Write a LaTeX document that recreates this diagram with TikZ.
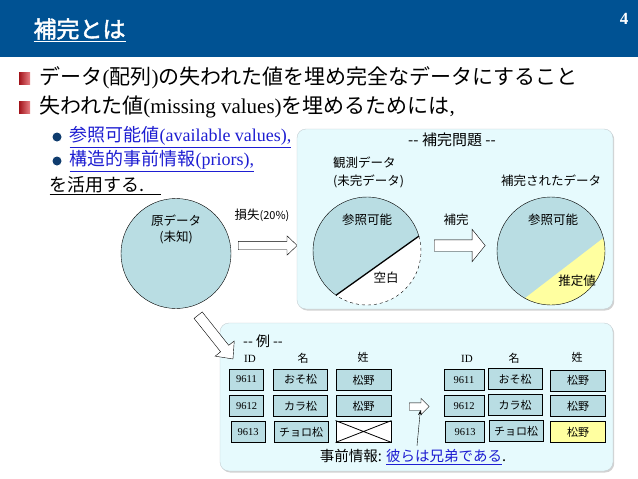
\documentclass[tikz,border=0pt]{standalone}
\usepackage{fontspec}
\setmainfont{Liberation Serif}
\newfontfamily\jp{Noto Sans CJK JP}
\newfontfamily\jpbold{Noto Sans CJK JP}[FakeBold=2]
\usetikzlibrary{shapes.arrows, shapes.geometric, arrows.meta, positioning, shadows, calc}
\definecolor{titleblue}{RGB}{0,82,147}
\definecolor{datafill}{RGB}{185,221,227}
\definecolor{panelfill}{RGB}{230,250,253}
\definecolor{panelline}{RGB}{196,206,210}
\definecolor{estfill}{RGB}{255,255,160}
\definecolor{linkblue}{RGB}{30,30,210}
\definecolor{dotblue}{RGB}{15,60,110}
\definecolor{bulletred}{RGB}{215,25,35}
\newcommand{\J}[1]{{\jp #1}}
\newcommand{\fsz}[1]{\fontsize{#1}{#1}\selectfont}

\begin{document}
\begin{tikzpicture}[x=1pt, y=-1pt, >=Stealth, font=\jp,
    panel/.style={draw=panelline, fill=panelfill, rounded corners=9pt,
        drop shadow={shadow xshift=1.2pt, shadow yshift=-1.5pt, opacity=.35}},
    datacircle/.style={circle, draw, fill=datafill, minimum size=110pt, inner sep=0pt},
    hollow/.style={single arrow, draw, fill=white, inner sep=0pt, text depth=0pt, anchor=tail},
    lbl/.style={font=\jp\fsz{12.5}, inner sep=0pt},
    hdr/.style={font=\fsz{11}, inner sep=0pt},
    cell/.style={draw, line width=.8pt, fill=datafill, minimum height=21pt, inner sep=0pt, font=\jp\fsz{11}},
    idcell/.style={cell, minimum width=34pt, font=\fsz{10.5}},
    namecell/.style={cell, minimum width=54pt},
    famcell/.style={cell, minimum width=55pt},
    redsq/.style={minimum width=11pt, minimum height=12pt, inner sep=0pt,
        left color=bulletred!75!black, right color=bulletred!55!white},
    dot/.style={circle, fill=dotblue, minimum size=9pt, inner sep=0pt}]
    \useasboundingbox (0,0) rectangle (638,479);
    \fill[white] (0,0) rectangle (638,479);

    % title bar
    \fill[titleblue] (0,0) rectangle (638,57);
    \node[anchor=west, text=white, font=\jpbold\fsz{23}] (title) at (30,30) {\underline{補完とは}};
    \node[text=white, font=\fsz{17}\bfseries] (pageno) at (624,19) {4};

    % bullets
    \node[redsq] (sq1) at (24.5,78) {};
    \node[redsq] (sq2) at (24.5,107) {};
    \node[anchor=west, font=\fsz{21}] (line1) at (36,78)
        {\J{データ}(\J{配列})\J{の失われた値を埋め完全なデータにすること}};
    \node[anchor=west, font=\fsz{21}] (line2) at (36,107)
        {\J{失われた値}(missing values)\J{を埋めるためには},};
    \node[dot] (dot1) at (57,137) {};
    \node[dot] (dot2) at (57,161) {};
    \node[anchor=west, text=linkblue, font=\fsz{18}] (avail) at (66,137)
        {\underline{\J{参照可能値}(available values),}};
    \node[anchor=west, text=linkblue, font=\fsz{18}] (prior) at (66,161)
        {\underline{\J{構造的事前情報}(priors),}};
    \node[anchor=west, font=\jp\fsz{18}] (use) at (46,186) {\underline{を活用する.\hspace{16pt}}};

    % original data
    \node[datacircle] (orig) at (176,253.5) {};
    \node[lbl, align=center, font=\jp\fontsize{12.5}{16}\selectfont] (origtxt) at (176,229) {原データ\\(未知)};
    \node[lbl] (losstxt) at (262,215) {損失\fsz{11}(20\%)};
    \node[hollow, text height=8pt, single arrow head extend=5.5pt, single arrow tip angle=87,
        minimum height=59pt] (lossarr) at (238,245.5) {};

    % completion problem
    \draw[panel] (297,129) rectangle (613,309);
    \node[font=\jp\fsz{15}] (probtitle) at (452,140) {-- 補完問題 --};
    \node[lbl, anchor=west, align=left, font=\jp\fontsize{12.5}{18}\selectfont] (obstxt) at (333,172)
        {観測データ\\(未完データ)};
    \node[lbl] (comptxt) at (551,181) {補完されたデータ};

    \coordinate (obs) at (367,251);
    \fill[datafill] (obs) ++(125:54) arc[start angle=125, end angle=344, radius=54] -- cycle;
    \fill[white] (obs) ++(-16:54) arc[start angle=-16, end angle=125, radius=54] -- cycle;
    \draw (obs) ++(125:54) arc[start angle=125, end angle=344, radius=54];
    \draw[dashed] (obs) ++(-16:54) arc[start angle=-16, end angle=125, radius=54];
    \draw[line width=1.3pt] ($(obs)+(125:54)$) -- ($(obs)+(-16:54)$);
    \node[lbl] (obsavail) at (367,220) {参照可能};
    \node[lbl] (blank) at (386,278) {空白};

    \node[lbl] (filltxt) at (456,220) {補完};
    \node[hollow, text height=11pt, single arrow head extend=10.5pt, single arrow tip angle=102,
        minimum height=51pt] (fillarr) at (434,245.5) {};

    \coordinate (comp) at (551,251);
    \fill[datafill] (comp) circle (54);
    \fill[estfill] (comp) ++(-14:54) arc[start angle=-14, end angle=119, radius=54] -- cycle;
    \draw (comp) circle (54);
    \node[lbl] (compavail) at (553,220) {参照可能};
    \node[lbl] (est) at (577,281) {推定値};

    % example
    \draw[panel] (220,323) rectangle (613,471);
    \node[hollow, text height=10pt, single arrow head extend=7pt, single arrow tip angle=85,
        minimum height=56pt, rotate=-51.5] (diagarr) at (198,315) {};
    \node[font=\jp\fsz{14}] (extitle) at (263,341) {-- 例 --};

    \node[hdr] (hid) at (250,359) {ID};
    \node[hdr, font=\jp\fsz{11}] (hname) at (303,358) {名};
    \node[hdr, font=\jp\fsz{11}] (hfam) at (363,357) {姓};
    \node[idcell] (a1) at (246.5,379.5) {9611};
    \node[namecell] (b1) at (300.5,379.5) {おそ松};
    \node[famcell] (c1) at (363.5,380) {松野};
    \node[idcell] (a2) at (246.5,406) {9612};
    \node[namecell] (b2) at (300.5,406) {カラ松};
    \node[famcell] (c2) at (363.5,406) {松野};
    \node[idcell] (a3) at (248,432) {9613};
    \node[namecell] (b3) at (301,432) {チョロ松};
    \node[famcell, fill=white] (c3) at (363.5,431.5) {};
    \draw[line width=.8pt] (c3.north west) -- (c3.south east) (c3.south west) -- (c3.north east);

    \node[hollow, text height=7pt, single arrow head extend=4.5pt, single arrow tip angle=90,
        minimum height=20pt] (priorarr) at (409,406.5) {};

    \node[hdr] (hid2) at (467,359) {ID};
    \node[hdr, font=\jp\fsz{11}] (hname2) at (514,358) {名};
    \node[hdr, font=\jp\fsz{11}] (hfam2) at (577,357) {姓};
    \node[idcell, minimum width=40pt] (d1) at (464,380) {9611};
    \node[namecell] (e1) at (515,379) {おそ松};
    \node[famcell] (f1) at (578,380.5) {松野};
    \node[idcell, minimum width=40pt] (d2) at (464,406) {9612};
    \node[namecell] (e2) at (515,405) {カラ松};
    \node[famcell] (f2) at (578,406) {松野};
    \node[idcell, minimum width=39pt] (d3) at (465,432) {9613};
    \node[namecell] (e3) at (516,431) {チョロ松};
    \node[famcell, fill=estfill] (f3) at (578,432) {松野};

    \node[font=\jp\fsz{14.5}] (priortxt) at (413,457)
        {事前情報: \textcolor{linkblue}{\underline{彼らは兄弟である}}.};
    \draw[->] ([xshift=4pt]priortxt.north) -- ([xshift=3pt]priorarr.south);
\end{tikzpicture}
\end{document}
